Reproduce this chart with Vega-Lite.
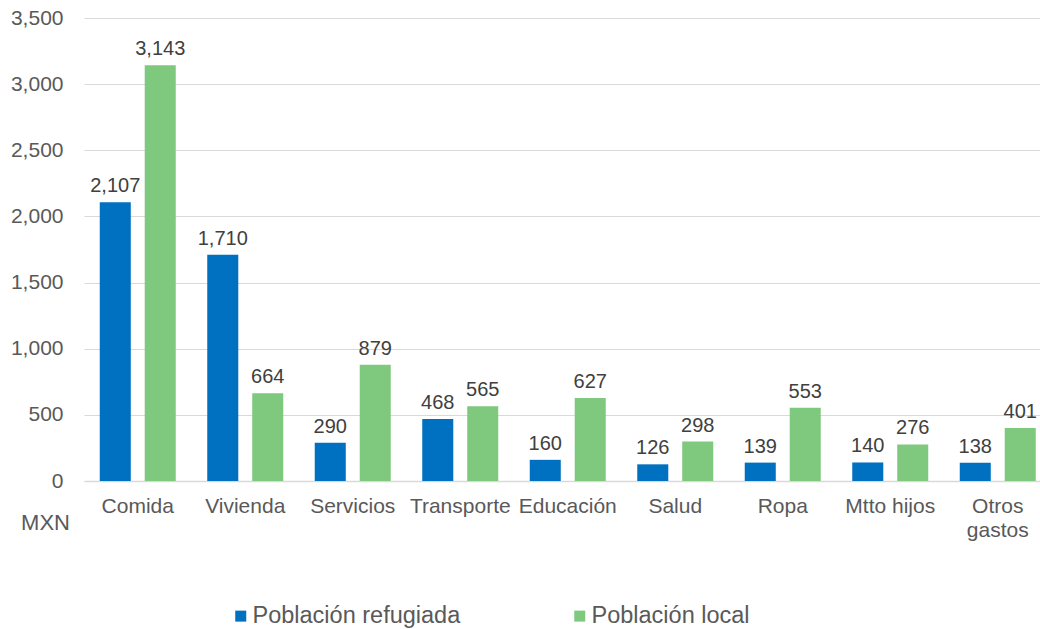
{
  "$schema": "https://vega.github.io/schema/vega-lite/v6.json",
  "autosize": "none",
  "width": 956,
  "height": 463,
  "padding": {"left": 84, "top": 18, "right": 0, "bottom": 148},
  "background": "white",
  "config": {
    "view": {"stroke": null},
    "font": "Liberation Sans",
    "axis": {"labelFont": "Liberation Sans", "titleFont": "Liberation Sans"}
  },
  "data": {
    "values": [
      {"cat": "Comida", "grupo": "Población refugiada", "valor": 2107},
      {"cat": "Comida", "grupo": "Población local", "valor": 3143},
      {"cat": "Vivienda", "grupo": "Población refugiada", "valor": 1710},
      {"cat": "Vivienda", "grupo": "Población local", "valor": 664},
      {"cat": "Servicios", "grupo": "Población refugiada", "valor": 290},
      {"cat": "Servicios", "grupo": "Población local", "valor": 879},
      {"cat": "Transporte", "grupo": "Población refugiada", "valor": 468},
      {"cat": "Transporte", "grupo": "Población local", "valor": 565},
      {"cat": "Educación", "grupo": "Población refugiada", "valor": 160},
      {"cat": "Educación", "grupo": "Población local", "valor": 627},
      {"cat": "Salud", "grupo": "Población refugiada", "valor": 126},
      {"cat": "Salud", "grupo": "Población local", "valor": 298},
      {"cat": "Ropa", "grupo": "Población refugiada", "valor": 139},
      {"cat": "Ropa", "grupo": "Población local", "valor": 553},
      {"cat": "Mtto hijos", "grupo": "Población refugiada", "valor": 140},
      {"cat": "Mtto hijos", "grupo": "Población local", "valor": 276},
      {"cat": "Otros gastos", "grupo": "Población refugiada", "valor": 138},
      {"cat": "Otros gastos", "grupo": "Población local", "valor": 401}
    ]
  },
  "encoding": {
    "x": {
      "field": "cat",
      "type": "nominal",
      "sort": null,
      "scale": {"range": [0, 967.5], "paddingInner": 0.293, "paddingOuter": 0.1465},
      "axis": {
        "title": null,
        "labelAngle": 0,
        "labelFontSize": 21,
        "labelColor": "#595959",
        "labelPadding": 14,
        "labelBaseline": "top",
        "labelLineHeight": 24,
        "labelLimit": 300,
        "ticks": false,
        "domain": true,
        "domainColor": "#D9D9D9",
        "domainWidth": 1.5,
        "labelExpr": "datum.value == 'Otros gastos' ? ['Otros', 'gastos'] : datum.value"
      }
    },
    "xOffset": {
      "field": "grupo",
      "type": "nominal",
      "sort": ["Población refugiada", "Población local"],
      "scale": {"paddingInner": 0.31, "paddingOuter": 0}
    },
    "y": {
      "field": "valor",
      "type": "quantitative",
      "scale": {"domain": [0, 3500], "nice": false},
      "axis": {
        "title": "MXN",
        "titleAngle": 0,
        "titleFontSize": 22,
        "titleFontWeight": "normal",
        "titleColor": "#595959",
        "titleAlign": "center",
        "titleBaseline": "middle",
        "titleX": -39,
        "titleY": 504,
        "values": [0, 500, 1000, 1500, 2000, 2500, 3000, 3500],
        "format": ",d",
        "labelFontSize": 21,
        "labelColor": "#595959",
        "labelPadding": 21,
        "ticks": false,
        "domain": false,
        "grid": true,
        "gridColor": "#D9D9D9",
        "gridWidth": 1.2
      }
    }
  },
  "layer": [
    {
      "mark": {"type": "bar"},
      "encoding": {
        "color": {
          "field": "grupo",
          "type": "nominal",
          "sort": ["Población refugiada", "Población local"],
          "scale": {
            "domain": ["Población refugiada", "Población local"],
            "range": ["#0070C0", "#7FC97F"]
          },
          "legend": {
            "title": null,
            "orient": "none",
            "direction": "horizontal",
            "legendX": 145,
            "legendY": 586,
            "symbolType": "square",
            "symbolSize": 121,
            "symbolStrokeWidth": 0,
            "labelFontSize": 23.5,
            "labelColor": "#595959",
            "labelOffset": 0,
            "labelLimit": 400,
            "columnPadding": 107
          }
        }
      }
    },
    {
      "mark": {
        "type": "text",
        "baseline": "alphabetic",
        "dy": -10,
        "fontSize": 20,
        "color": "#404040"
      },
      "encoding": {
        "text": {"field": "valor", "type": "quantitative", "format": ",d"}
      }
    }
  ]
}
